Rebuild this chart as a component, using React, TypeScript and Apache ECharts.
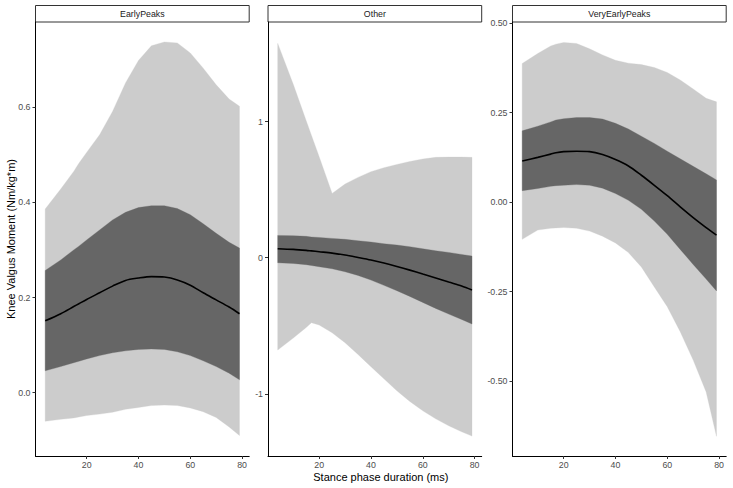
import { useEffect, useRef } from "react";
import * as echarts from "echarts";

// stance phase duration (ms) at which the fitted curves were read
const stanceMs = [4, 10, 15, 17, 20, 25, 30, 35, 40, 45, 50, 55, 60, 65, 70, 75, 79];

const panelNames = ["EarlyPeaks", "Other", "VeryEarlyPeaks"];

// EarlyPeaks
const earlyOuterHigh = [0.386, 0.428, 0.465, 0.482, 0.505, 0.542, 0.591, 0.651, 0.698, 0.729, 0.737, 0.735, 0.714, 0.682, 0.647, 0.617, 0.602];
const earlyInnerHigh = [0.257, 0.279, 0.3, 0.308, 0.321, 0.342, 0.363, 0.379, 0.389, 0.393, 0.393, 0.387, 0.374, 0.355, 0.335, 0.316, 0.304];
const earlyMean = [0.151, 0.166, 0.181, 0.187, 0.196, 0.21, 0.224, 0.236, 0.241, 0.244, 0.243, 0.237, 0.226, 0.21, 0.195, 0.18, 0.166];
const earlyInnerLow = [0.046, 0.055, 0.063, 0.066, 0.071, 0.078, 0.084, 0.088, 0.091, 0.092, 0.091, 0.086, 0.078, 0.067, 0.055, 0.041, 0.027];
const earlyOuterLow = [-0.06, -0.056, -0.053, -0.051, -0.048, -0.045, -0.041, -0.035, -0.031, -0.027, -0.026, -0.027, -0.032, -0.04, -0.052, -0.072, -0.09];

// Other
const otherOuterHigh = [1.574, 1.273, 1.006, 0.9, 0.742, 0.472, 0.541, 0.59, 0.632, 0.661, 0.685, 0.707, 0.725, 0.737, 0.739, 0.739, 0.737];
const otherInnerHigh = [0.164, 0.162, 0.157, 0.152, 0.149, 0.142, 0.135, 0.125, 0.115, 0.103, 0.093, 0.081, 0.066, 0.051, 0.039, 0.024, 0.012];
const otherMean = [0.066, 0.061, 0.054, 0.05, 0.044, 0.034, 0.02, 0.002, -0.017, -0.039, -0.064, -0.091, -0.12, -0.149, -0.179, -0.208, -0.237];
const otherInnerLow = [-0.037, -0.042, -0.051, -0.057, -0.066, -0.081, -0.103, -0.13, -0.164, -0.203, -0.242, -0.284, -0.328, -0.372, -0.414, -0.453, -0.487];
const otherOuterLow = [-0.678, -0.59, -0.512, -0.477, -0.494, -0.551, -0.624, -0.71, -0.8, -0.889, -0.977, -1.055, -1.124, -1.183, -1.234, -1.278, -1.31];

// VeryEarlyPeaks
const veryOuterHigh = [0.387, 0.415, 0.436, 0.441, 0.446, 0.443, 0.428, 0.411, 0.396, 0.388, 0.384, 0.376, 0.362, 0.341, 0.316, 0.29, 0.28];
const veryInnerHigh = [0.199, 0.212, 0.224, 0.229, 0.233, 0.236, 0.236, 0.232, 0.22, 0.204, 0.184, 0.164, 0.142, 0.121, 0.1, 0.079, 0.062];
const veryMean = [0.115, 0.125, 0.134, 0.138, 0.141, 0.142, 0.141, 0.133, 0.119, 0.101, 0.075, 0.047, 0.018, -0.013, -0.043, -0.071, -0.092];
const veryInnerLow = [0.032, 0.038, 0.044, 0.046, 0.047, 0.049, 0.047, 0.039, 0.024, 0.005, -0.02, -0.053, -0.09, -0.132, -0.174, -0.215, -0.248];
const veryOuterLow = [-0.104, -0.078, -0.073, -0.072, -0.071, -0.073, -0.081, -0.095, -0.114, -0.141, -0.181, -0.237, -0.292, -0.362, -0.441, -0.53, -0.654];

// axis ticks
const xTicks = [20, 40, 60, 80];
const yTicks = [
	[0, 0.2, 0.4, 0.6],
	[-1, 0, 1],
	[-0.5, -0.25, 0, 0.25, 0.5],
];
const yDecimals = [1, 0, 2];
const yRanges = [
	[-0.133, 0.779],
	[-1.456, 1.731],
	[-0.709, 0.503],
];

const bands = [
	{ outerLow: earlyOuterLow, innerLow: earlyInnerLow, mean: earlyMean, innerHigh: earlyInnerHigh, outerHigh: earlyOuterHigh },
	{ outerLow: otherOuterLow, innerLow: otherInnerLow, mean: otherMean, innerHigh: otherInnerHigh, outerHigh: otherOuterHigh },
	{ outerLow: veryOuterLow, innerLow: veryInnerLow, mean: veryMean, innerHigh: veryInnerHigh, outerHigh: veryOuterHigh },
];

const FONT = "'Liberation Sans', Arial, sans-serif";
const LIGHT = "#cccccc";
const DARK = "#666666";
const gridLefts = [35.5, 268, 512.5];
const GRID_W = 213.7;
const GRID_TOP = 22;
const GRID_H = 434;

// ribbon between two curves, drawn once as a polygon through the axis scales
const ribbon = (i: number, low: number[], high: number[], color: string, z: number) => ({
	type: "custom",
	xAxisIndex: i,
	yAxisIndex: i,
	data: stanceMs.map((x, k) => [x, low[k], high[k]]),
	encode: { x: 0, y: [1, 2] },
	silent: true,
	z,
	renderItem: (params: any, api: any) => {
		if (params.dataIndex !== 0) return null;
		const top = stanceMs.map((x, k) => api.coord([x, high[k]]));
		const bottom = stanceMs.map((x, k) => api.coord([x, low[k]])).reverse();
		return {
			type: "polygon",
			shape: { points: top.concat(bottom) },
			style: { fill: color, stroke: color, lineWidth: 0.3 },
		};
	},
});

export default function App() {
	const ref = useRef<HTMLDivElement | null>(null);

	useEffect(() => {
		if (!ref.current) return;
		const chart = echarts.init(ref.current, null, { renderer: "svg" });

		const series: any[] = [];
		bands.forEach((b, i) => {
			series.push(ribbon(i, b.outerLow, b.outerHigh, LIGHT, 1));
			series.push(ribbon(i, b.innerLow, b.innerHigh, DARK, 2));
			series.push({
				type: "line",
				xAxisIndex: i,
				yAxisIndex: i,
				data: stanceMs.map((x, k) => [x, b.mean[k]]),
				showSymbol: false,
				symbol: "none",
				smooth: 0.3,
				lineStyle: { color: "#000000", width: 1.6 },
				z: 5,
				silent: true,
			});
		});

		const graphic: any[] = [];
		panelNames.forEach((name, i) => {
			graphic.push({
				type: "rect",
				shape: { x: gridLefts[i], y: 5.5, width: GRID_W, height: 16.5 },
				style: { fill: "#ffffff", stroke: "#333333", lineWidth: 1 },
			});
			graphic.push({
				type: "text",
				x: gridLefts[i] + GRID_W / 2,
				y: 14,
				style: { text: name, align: "center", verticalAlign: "middle", fontSize: 8.8, fill: "#1a1a1a", fontFamily: FONT },
			});
		});
		graphic.push({
			type: "text",
			x: 11,
			y: GRID_TOP + GRID_H / 2,
			rotation: Math.PI / 2,
			style: { text: "Knee Valgus Moment (Nm/kg*m)", align: "center", verticalAlign: "middle", fontSize: 11, fill: "#000000", fontFamily: FONT },
		});
		graphic.push({
			type: "text",
			x: (gridLefts[0] + gridLefts[2] + GRID_W) / 2,
			y: 476.5,
			style: { text: "Stance phase duration (ms)", align: "center", verticalAlign: "middle", fontSize: 11, fill: "#000000", fontFamily: FONT },
		});

		chart.setOption({
			animation: false,
			textStyle: { fontFamily: FONT },
			grid: gridLefts.map((left) => ({ left, top: GRID_TOP, width: GRID_W, height: GRID_H })),
			xAxis: gridLefts.map((_, i) => ({
				gridIndex: i,
				type: "value",
				min: 0.25,
				max: 82.75,
				axisLine: { show: true, onZero: false, lineStyle: { color: "#000000", width: 1 } },
				axisTick: { show: true, customValues: xTicks, length: 3, lineStyle: { color: "#333333" } },
				axisLabel: { customValues: xTicks, color: "#4d4d4d", fontSize: 8.8, margin: 4 },
				splitLine: { show: false },
			})),
			yAxis: gridLefts.map((_, i) => ({
				gridIndex: i,
				type: "value",
				min: yRanges[i][0],
				max: yRanges[i][1],
				axisLine: { show: true, onZero: false, lineStyle: { color: "#000000", width: 1 } },
				axisTick: { show: true, customValues: yTicks[i], length: 3, lineStyle: { color: "#333333" } },
				axisLabel: {
					customValues: yTicks[i],
					color: "#4d4d4d",
					fontSize: 8.8,
					margin: 5,
					formatter: (v: number) => v.toFixed(yDecimals[i]),
				},
				splitLine: { show: false },
			})),
			series,
			graphic,
		});

		return () => chart.dispose();
	}, []);

	return <div ref={ref} style={{ position: "fixed", left: 0, top: 0, width: 733, height: 488, background: "#ffffff" }} />;
}
